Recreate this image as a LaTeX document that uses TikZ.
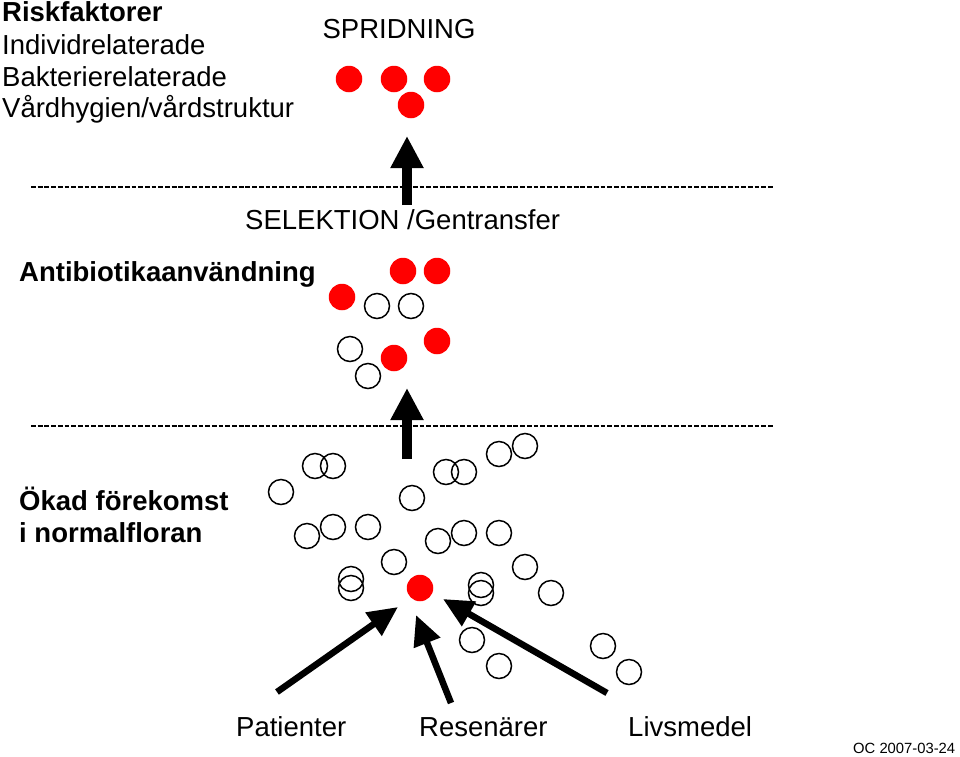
\documentclass[tikz,border=0pt]{standalone}
\usepackage{fontspec}
\setmainfont{Liberation Sans}
\usetikzlibrary{arrows.meta}
\tikzset{
  txt/.style={inner sep=0pt, anchor=base west, font=\fontsize{27.5}{30}\selectfont},
  btxt/.style={txt, font=\fontsize{27.5}{30}\selectfont\bfseries},
  redc/.style={circle, fill=red, draw=none, minimum size=26.5pt, inner sep=0pt},
  opc/.style={circle, draw=black, line width=1.5pt, minimum size=25pt, inner sep=0pt},
  sep/.style={line width=1.9pt, dash pattern=on 4.8pt off 1.9pt},
  bigarr/.style={line width=9.5pt, -{Triangle[length=32pt,width=31pt]}},
  thinarr/.style={line width=6.5pt, -{Triangle[length=30pt,width=27pt]}},
}
\begin{document}
\begin{tikzpicture}[x=1pt,y=-1pt]
\useasboundingbox (0,0) rectangle (960,756);
\fill[white] (0,0) rectangle (960,756);

% texts
\node[btxt] (rf) at (2,21) {Riskfaktorer};
\node[txt] (ir) at (2,54) {Individrelaterade};
\node[txt] (br) at (2,86) {Bakterierelaterade};
\node[txt] (vh) at (2,117) {Vårdhygien/vårdstruktur};
\node[txt, anchor=base] (spr) at (399,38) {SPRIDNING};
\node[txt] (sel) at (245,229) {SELEKTION /Gentransfer};
\node[btxt] (ab) at (19,281) {Antibiotikaanvändning};
\node[btxt] (ok1) at (19,510) {Ökad förekomst};
\node[btxt] (ok2) at (19,542) {i normalfloran};
\node[txt] (pat) at (236,736) {Patienter};
\node[txt] (res) at (419,736) {Resenärer};
\node[txt] (liv) at (628,736) {Livsmedel};
\node[inner sep=0pt, anchor=base west, font=\fontsize{14.8}{16}\selectfont] (oc) at (853,753) {OC 2007-03-24};

% separators
\coordinate (s1a) at (31,187); \coordinate (s1b) at (773,187);
\coordinate (s2a) at (31,426); \coordinate (s2b) at (773,426);
\draw[sep] (s1a) -- (s1b);
\draw[sep] (s2a) -- (s2b);

% top red cluster
\node[redc] (t1) at (349,79) {};
\node[redc] (t2) at (394,79) {};
\node[redc] (t3) at (437,79) {};
\node[redc] (t4) at (411,105) {};

% middle cluster
\node[redc] (m1) at (403,271) {};
\node[redc] (m2) at (437,271) {};
\node[redc] (m3) at (342,297) {};
\node[opc] (m4) at (377,306) {};
\node[opc] (m5) at (411,306) {};
\node[opc] (m6) at (350,349) {};
\node[redc] (m7) at (437,341) {};
\node[redc] (m8) at (394,358) {};
\node[opc] (m9) at (368,376) {};

% bottom cluster
\node[opc] (b1) at (315,466) {};
\node[opc] (b2) at (333,466) {};
\node[opc] (b3) at (281,492) {};
\node[opc] (b4) at (412,498) {};
\node[opc] (b5) at (446,472) {};
\node[opc] (b6) at (464,472) {};
\node[opc] (b7) at (499,454) {};
\node[opc] (b8) at (525,446) {};
\node[opc] (b9) at (307,536) {};
\node[opc] (b10) at (333,527) {};
\node[opc] (b11) at (368,527) {};
\node[opc] (b12) at (438,541) {};
\node[opc] (b13) at (464,533) {};
\node[opc] (b14) at (499,533) {};
\node[opc] (b15) at (394,562) {};
\node[opc] (b16) at (351,579) {};
\node[opc] (b17) at (351,588) {};
\node[opc] (b18) at (481,585) {};
\node[opc] (b19) at (481,593) {};
\node[opc] (b20) at (525,567) {};
\node[opc] (b21) at (551,593) {};
\node[opc] (b22) at (472,640) {};
\node[opc] (b23) at (499,666) {};
\node[opc] (b24) at (603,646) {};
\node[opc] (b25) at (629,672) {};
\node[redc] (hub) at (420,588) {};

% vertical arrows
\coordinate (v1s) at (407,205); \coordinate (v1t) at (407,136);
\coordinate (v2s) at (407,459); \coordinate (v2t) at (407,388);
\draw[bigarr] (v1s) -- (v1t);
\draw[bigarr] (v2s) -- (v2t);

% source arrows
\coordinate (pa) at (277,692); \coordinate (pt) at (398,607);
\coordinate (ra) at (451,703); \coordinate (rt) at (416,615);
\coordinate (la) at (607,693); \coordinate (lt) at (443,599);
\draw[thinarr] (pa) -- (pt);
\draw[thinarr] (ra) -- (rt);
\draw[thinarr] (la) -- (lt);
\end{tikzpicture}
\end{document}
